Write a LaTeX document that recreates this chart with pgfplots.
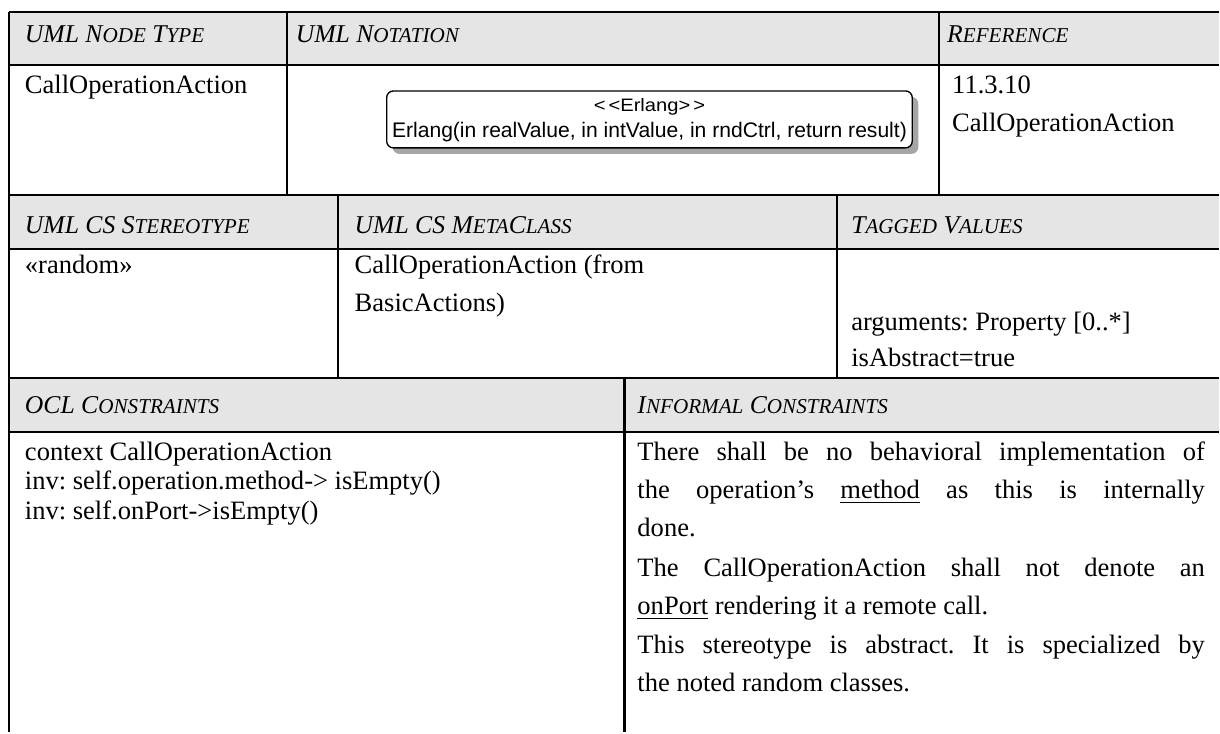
\documentclass[border=0pt]{standalone}
\usepackage{pgfplots}
\pgfplotsset{compat=1.18}
\usepackage{fontspec}
\setmainfont{Liberation Serif}
\setsansfont{Liberation Sans}
\frenchspacing
\definecolor{hdr}{RGB}{229,229,229}
\definecolor{shadowgray}{RGB}{165,165,165}
\newcommand{\hs}[1]{{\fontsize{9.4}{10}\selectfont #1}}
\newcommand{\jl}[1]{\makebox[252.4pt][s]{#1}}
\tikzset{
  bt/.style={inner sep=0pt, outer sep=0pt, anchor=base west, font=\fontsize{11.8}{14}\selectfont},
  ht/.style={inner sep=0pt, outer sep=0pt, anchor=base west, font=\itshape\fontsize{11.4}{14}\selectfont},
  bx/.style={inner sep=0pt, outer sep=0pt, anchor=base, font=\sffamily\fontsize{8}{9}\selectfont},
}
\begin{document}
\begin{tikzpicture}
\begin{axis}[
  width=542.2pt, height=325.8pt, scale only axis,
  xmin=0, xmax=1220, ymin=0, ymax=733, y dir=reverse,
  hide axis, clip=false,
]
\path (axis cs:0,0) rectangle (axis cs:1220,733);
% header fills
\addplot[fill=hdr, draw=none] coordinates {(9,12) (1220,12) (1220,65) (9,65)} --cycle;
\addplot[fill=hdr, draw=none] coordinates {(9,195) (1220,195) (1220,249) (9,249)} --cycle;
\addplot[fill=hdr, draw=none] coordinates {(9,378) (1220,378) (1220,432) (9,432)} --cycle;
% horizontal rules
\addplot[black, line width=0.9pt] coordinates {(9,12) (1220,12)};
\addplot[black, line width=0.9pt] coordinates {(9,65) (1220,65)};
\addplot[black, line width=0.9pt] coordinates {(9,195) (1220,195)};
\addplot[black, line width=0.9pt] coordinates {(9,249) (1220,249)};
\addplot[black, line width=0.9pt] coordinates {(9,378) (1220,378)};
\addplot[black, line width=0.9pt] coordinates {(9,432) (1220,432)};
% vertical rules
\addplot[black, line width=0.9pt] coordinates {(9,12) (9,733)};
\addplot[black, line width=0.9pt] coordinates {(287,12) (287,195)};
\addplot[black, line width=0.9pt] coordinates {(940,12) (940,195)};
\addplot[black, line width=0.9pt] coordinates {(338,195) (338,378)};
\addplot[black, line width=0.9pt] coordinates {(838,195) (838,378)};
\addplot[black, line width=0.9pt] coordinates {(625,378) (625,733)};
% notation box with shadow
\addplot[fill=shadowgray, draw=none, rounded corners=3pt] coordinates {(393,97) (919,97) (919,154) (393,154)} --cycle;
\addplot[fill=white, draw=black, line width=0.6pt, rounded corners=3pt] coordinates {(387,91) (913,91) (913,148) (387,148)} --cycle;
\node[bx] at (axis cs:650,112) {\scalebox{1.12}[1]{<\kern0.15em<Erlang>\kern0.15em>}};
\node[bx] at (axis cs:650,138) {\resizebox{229pt}{!}{Erlang(in realValue, in intValue, in rndCtrl, return result)}};
% headers row 1
\node[ht] at (axis cs:25,43) {UML N\hs{ODE} T\hs{YPE}};
\node[ht] at (axis cs:296,43) {UML N\hs{OTATION}};
\node[ht] at (axis cs:948,43) {R\hs{EFERENCE}};
% row 2
\node[bt] at (axis cs:25,94) {CallOperationAction};
\node[bt] at (axis cs:953,94) {11.3.10};
\node[bt] at (axis cs:953,132) {CallOperationAction};
% headers row 3
\node[ht] at (axis cs:25,234) {UML CS S\hs{TEREOTYPE}};
\node[ht] at (axis cs:355,234) {UML CS M\hs{ETA}C\hs{LASS}};
\node[ht] at (axis cs:852,234) {T\hs{AGGED} V\hs{ALUES}};
% row 4
\node[bt] at (axis cs:25,274) {«random»};
\node[bt] at (axis cs:355,274) {CallOperationAction (from};
\node[bt] at (axis cs:355,312) {BasicActions)};
\node[bt] at (axis cs:852,331) {arguments: Property [0..*]};
\node[bt] at (axis cs:852,367) {isAbstract=true};
% headers row 5
\node[ht] at (axis cs:25,414) {OCL C\hs{ONSTRAINTS}};
\node[ht] at (axis cs:638,414) {I\hs{NFORMAL} C\hs{ONSTRAINTS}};
% row 6 left
\node[bt] at (axis cs:25,461) {context CallOperationAction};
\node[bt] at (axis cs:25,490) {inv: self.operation.method-> isEmpty()};
\node[bt] at (axis cs:25,520) {inv: self.onPort->isEmpty()};
% row 6 right
\node[bt] at (axis cs:638,461) {\jl{There shall be no behavioral implementation of}};
\node[bt] at (axis cs:638,499) {\jl{the operation’s \underline{method} as this is internally}};
\node[bt] at (axis cs:638,537) {done.};
\node[bt] at (axis cs:638,577) {\jl{The CallOperationAction shall not denote an}};
\node[bt] at (axis cs:638,615) {\underline{onPort} rendering it a remote call.};
\node[bt] at (axis cs:638,654) {\jl{This stereotype is abstract. It is specialized by}};
\node[bt] at (axis cs:638,692) {the noted random classes.};
\end{axis}
\end{tikzpicture}
\end{document}
